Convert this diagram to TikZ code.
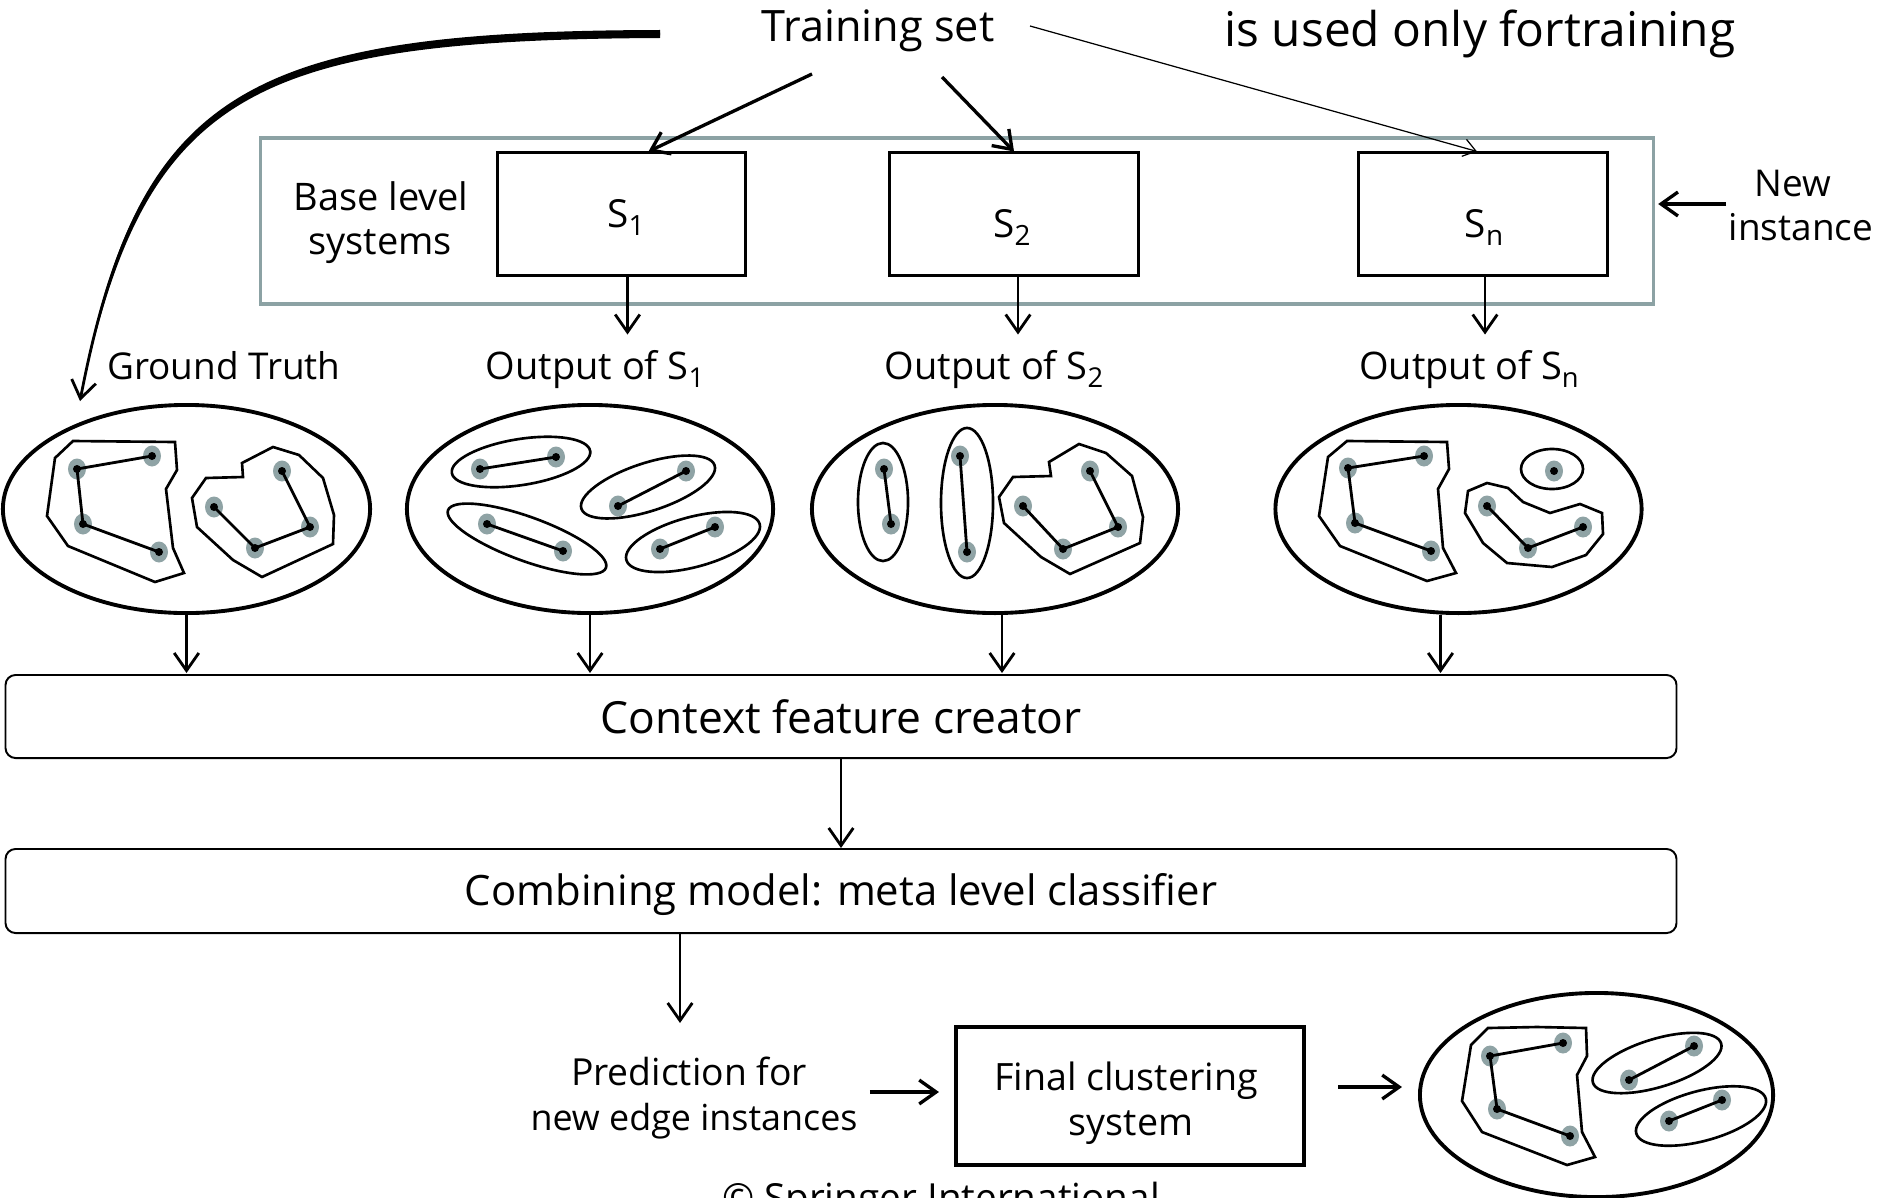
\documentclass[tikz,border=0pt]{standalone}
\usepackage{fontspec}
\setmainfont{Open Sans}
\usetikzlibrary{arrows.meta,shapes.geometric}
\definecolor{halo}{RGB}{143,163,165}
\definecolor{framec}{RGB}{140,162,164}
\newcommand\fsz[1]{\fontsize{#1}{#1}\selectfont}
\newcommand\halos[1]{\foreach \p in {#1} {\fill[halo] (\p) ellipse (0.09cm and 0.105cm);}}
\newcommand\blacks[1]{\foreach \p in {#1} {\fill (\p) circle (0.04cm);}}
\newcommand\lowsub[1]{\raisebox{-0.4ex}{\fontsize{0.72em}{0.72em}\selectfont #1}}
\begin{document}
\begin{tikzpicture}[x=0.01cm,y=-0.01cm,
  txt/.style={anchor=base,inner sep=0pt},
  arr/.style={line width=0.8pt,-{Straight Barb[length=5pt,width=7pt]}},
  boldarr/.style={line width=0.95pt,-{Straight Barb[length=4.8pt,width=6.8pt]}},
  thinarr/.style={line width=0.35pt,-{Straight Barb[length=3.5pt,width=5pt]}},
  bigell/.style={draw,ellipse,line width=1.1pt,inner sep=0pt,minimum height=2.08cm},
  sm/.style={line width=0.75pt},
  edge/.style={line width=0.8pt},
  sbox/.style={draw,line width=0.85pt,inner sep=0pt,minimum width=2.48cm,minimum height=1.22cm},
  rbox/.style={draw,line width=0.55pt,rounded corners=0.1cm,inner sep=0pt,minimum width=16.7cm,minimum height=0.83cm}]
\useasboundingbox (0,0) rectangle (1883,1197);

% ---------- top texts ----------
\node[txt,font=\fsz{12.3pt}] (tset) at (878,42) {Training set};
\node[txt,font=\fsz{13.6pt}] (note) at (1480,47) {is used only fortraining};

% ---------- base level systems ----------
\node[draw=framec,line width=1pt,inner sep=0pt,minimum width=13.92cm,minimum height=1.66cm] (base) at (957,221) {};
\node[sbox] (s1) at (621.5,214) {};
\node[sbox] (s2) at (1014,214) {};
\node[sbox] (sn) at (1483,214) {};
\node[txt,font=\fsz{11pt}] (s1t) at (626,227) {S\lowsub{1}};
\node[txt,font=\fsz{11pt}] (s2t) at (1012,237) {S\lowsub{2}};
\node[txt,font=\fsz{11pt}] (snt) at (1484,237) {S\lowsub{n}};
\node[txt,font=\fsz{10.8pt}] (bl1) at (381,210) {Base level};
\node[txt,font=\fsz{10.8pt}] (bl2) at (380,254) {systems};
\node[txt,font=\fsz{10.5pt}] (ni1) at (1793,196) {New};
\node[txt,font=\fsz{10.5pt}] (ni2) at (1801,240) {instance};

% arrows from training set
\draw[boldarr] ([shift={(-66,32)}]tset.base) -- ([shift={(27,0)}]s1.north);
\draw[boldarr] ([shift={(64,35)}]tset.base) -- (s2.north);
\draw[thinarr] ([shift={(152,-16)}]tset.base) -- ([shift={(-6,0)}]sn.north);
\coordinate (gtin) at (80,401);
\fill ([shift={(-218,-12)}]tset.base) .. controls (250,31) and (136,88) .. (gtin)
      .. controls (144,92) and (250,40) .. ([shift={(-218,-4)}]tset.base) -- cycle;
\draw[arr] ([shift={(-218,-8)}]tset.base) .. controls (250,35) and (140,90) .. (gtin);
\draw[boldarr] ([shift={(71,-17)}]base.east) -- ([shift={(3,-17)}]base.east);

% output labels
\draw[arr] ([shift={(6,0)}]s1.south) -- ++(0,58);
\draw[arr] ([shift={(4,0)}]s2.south) -- ++(0,58);
\draw[arr] ([shift={(2,0)}]sn.south) -- ++(0,58);
\node[txt,font=\fsz{10.5pt}] (gt) at (224,379) {Ground Truth};
\node[txt,font=\fsz{10.8pt}] (o1) at (595,379) {Output of S\lowsub{1}};
\node[txt,font=\fsz{10.8pt}] (o2) at (994,379) {Output of S\lowsub{2}};
\node[txt,font=\fsz{10.8pt}] (on) at (1469,379) {Output of S\lowsub{n}};

% ---------- ellipses ----------
\node[bigell,minimum width=3.67cm] (e1) at (186.5,509) {};
\node[bigell,minimum width=3.66cm] (e2) at (590,509) {};
\node[bigell,minimum width=3.66cm] (e3) at (995,509) {};
\node[bigell,minimum width=3.66cm] (e4) at (1458.5,509) {};
\node[bigell,minimum width=3.53cm,minimum height=2.04cm] (e5) at (1596.5,1095) {};

% e1
\draw[sm] (73,441)--(175,442)--(177,470)--(166,489)--(173,548)--(184,573)--(155,582)--(68,546)--(47,516)--(55,458)--cycle;
\draw[sm] (206,478)--(243,477)--(242,463)--(273,447)--(299,455)--(323,478)--(334,515)--(333,544)--(262,577)--(233,560)--(197,527)--(192,498)--cycle;
\halos{{77,469},{152,456},{83,524},{159,552},{214,507},{282,471},{310,527},{255,548}}
\draw[edge] (152,456)--(77,469)--(83,524)--(159,552);
\draw[edge] (214,507)--(255,548)--(310,527)--(282,471);
\blacks{{77,469},{152,456},{83,524},{159,552},{214,507},{282,471},{310,527},{255,548}}

% e2
\draw[sm,rotate around={9:(521,462)}] (521,462) ellipse (0.70cm and 0.23cm);
\draw[sm,rotate around={18:(648,487)}] (648,487) ellipse (0.70cm and 0.24cm);
\draw[sm,rotate around={-20:(527,539)}] (527,539) ellipse (0.84cm and 0.22cm);
\draw[sm,rotate around={15:(693,542)}] (693,542) ellipse (0.69cm and 0.25cm);
\halos{{480,469},{556,457},{618,506},{686,471},{487,524},{563,551},{660,549},{715,527}}
\draw[edge] (480,469)--(556,457);
\draw[edge] (618,506)--(686,471);
\draw[edge] (487,524)--(563,551);
\draw[edge] (660,549)--(715,527);
\blacks{{480,469},{556,457},{618,506},{686,471},{487,524},{563,551},{660,549},{715,527}}

% e3
\draw[sm] (883,502) ellipse (0.25cm and 0.59cm);
\draw[sm] (967,503) ellipse (0.26cm and 0.75cm);
\draw[sm] (1013,477)--(1051,476)--(1049,462)--(1079,444)--(1106,453)--(1132,476)--(1143,517)--(1140,543)--(1070,574)--(1041,557)--(1004,523)--(999,497)--cycle;
\halos{{884,469},{891,524},{960,456},{967,552},{1023,506},{1090,471},{1118,527},{1063,549}}
\draw[edge] (884,469)--(891,524);
\draw[edge] (960,456)--(967,552);
\draw[edge] (1023,506)--(1063,549)--(1118,527)--(1090,471);
\blacks{{884,469},{891,524},{960,456},{967,552},{1023,506},{1090,471},{1118,527},{1063,549}}

% e4
\draw[sm] (1347,441)--(1447,442)--(1449,469)--(1438,489)--(1443,548)--(1456,573)--(1427,581)--(1340,546)--(1319,516)--(1328,457)--cycle;
\draw[sm] (1552,469) ellipse (0.31cm and 0.20cm);
\draw[sm] (1468,491)--(1487,483)--(1508,488)--(1523,502)--(1550,513)--(1580,504)--(1602,513)--(1603,534)--(1586,555)--(1552,567)--(1507,563)--(1483,543)--(1465,513)--cycle;
\halos{{1348,468},{1424,456},{1355,523},{1431,551},{1554,471},{1487,506},{1583,527},{1528,548}}
\draw[edge] (1424,456)--(1348,468)--(1355,523)--(1431,551);
\draw[edge] (1487,506)--(1528,548)--(1583,527);
\blacks{{1348,468},{1424,456},{1355,523},{1431,551},{1554,471},{1487,506},{1583,527},{1528,548}}

% ---------- context / combining ----------
\draw[arr] (e1.south) -- (e1.south |- 0,673);
\draw[arr] (e2.south) -- (e2.south |- 0,673);
\draw[arr] ([shift={(7,0)}]e3.south) -- ([shift={(7,0)}]e3.south |- 0,673);
\draw[arr] ([shift={(-18,0)}]e4.south) -- ([shift={(-18,0)}]e4.south |- 0,673);
\node[rbox] (ctx) at (841,716.5) {};
\node[txt,font=\fsz{12.6pt}] (ctxt) at (841,733) {Context feature creator};
\node[rbox,minimum height=0.84cm] (comb) at (841,891) {};
\node[txt,font=\fsz{11.9pt}] (combt) at (841,905) {Combining model: meta level classifier};
\draw[arr] (ctx.south) -- (comb.north);
\draw[arr] ([shift={(-161,0)}]comb.south) -- ++(0,89);

% ---------- bottom ----------
\node[txt,font=\fsz{10.6pt}] (p1) at (689,1085) {Prediction for};
\node[txt,font=\fsz{10.2pt}] (p2) at (694,1130) {new edge instances};
\node[draw,line width=1.1pt,inner sep=0pt,minimum width=3.48cm,minimum height=1.38cm] (final) at (1130,1096) {};
\node[txt,font=\fsz{10.7pt}] (f1) at (1126,1090) {Final clustering};
\node[txt,font=\fsz{10.7pt}] (f2) at (1131,1135) {system};
\draw[boldarr] ([shift={(-84,-4)}]final.west) -- ([shift={(-15,-4)}]final.west);
\draw[boldarr] ([shift={(32,-9)}]final.east) -- ([shift={(-16,-8)}]e5.west);

% e5
\draw[sm] (1488,1028)--(1537,1027)--(1586,1028)--(1587,1056)--(1577,1075)--(1582,1132)--(1595,1157)--(1567,1165)--(1482,1132)--(1462,1101)--(1471,1045)--cycle;
\draw[sm,rotate around={17:(1657,1063)}] (1657,1063) ellipse (0.67cm and 0.24cm);
\draw[sm,rotate around={15:(1701,1116)}] (1701,1116) ellipse (0.67cm and 0.25cm);
\halos{{1490,1056},{1563,1043},{1497,1109},{1570,1136},{1629,1080},{1694,1046},{1669,1121},{1722,1100}}
\draw[edge] (1563,1043)--(1490,1056)--(1497,1109)--(1570,1136);
\draw[edge] (1629,1080)--(1694,1046);
\draw[edge] (1669,1121)--(1722,1100);
\blacks{{1490,1056},{1563,1043},{1497,1109},{1570,1136},{1629,1080},{1694,1046},{1669,1121},{1722,1100}}

\node[txt,font=\fsz{11pt}] (copy) at (941,1211) {© Springer International};
\end{tikzpicture}
\end{document}
